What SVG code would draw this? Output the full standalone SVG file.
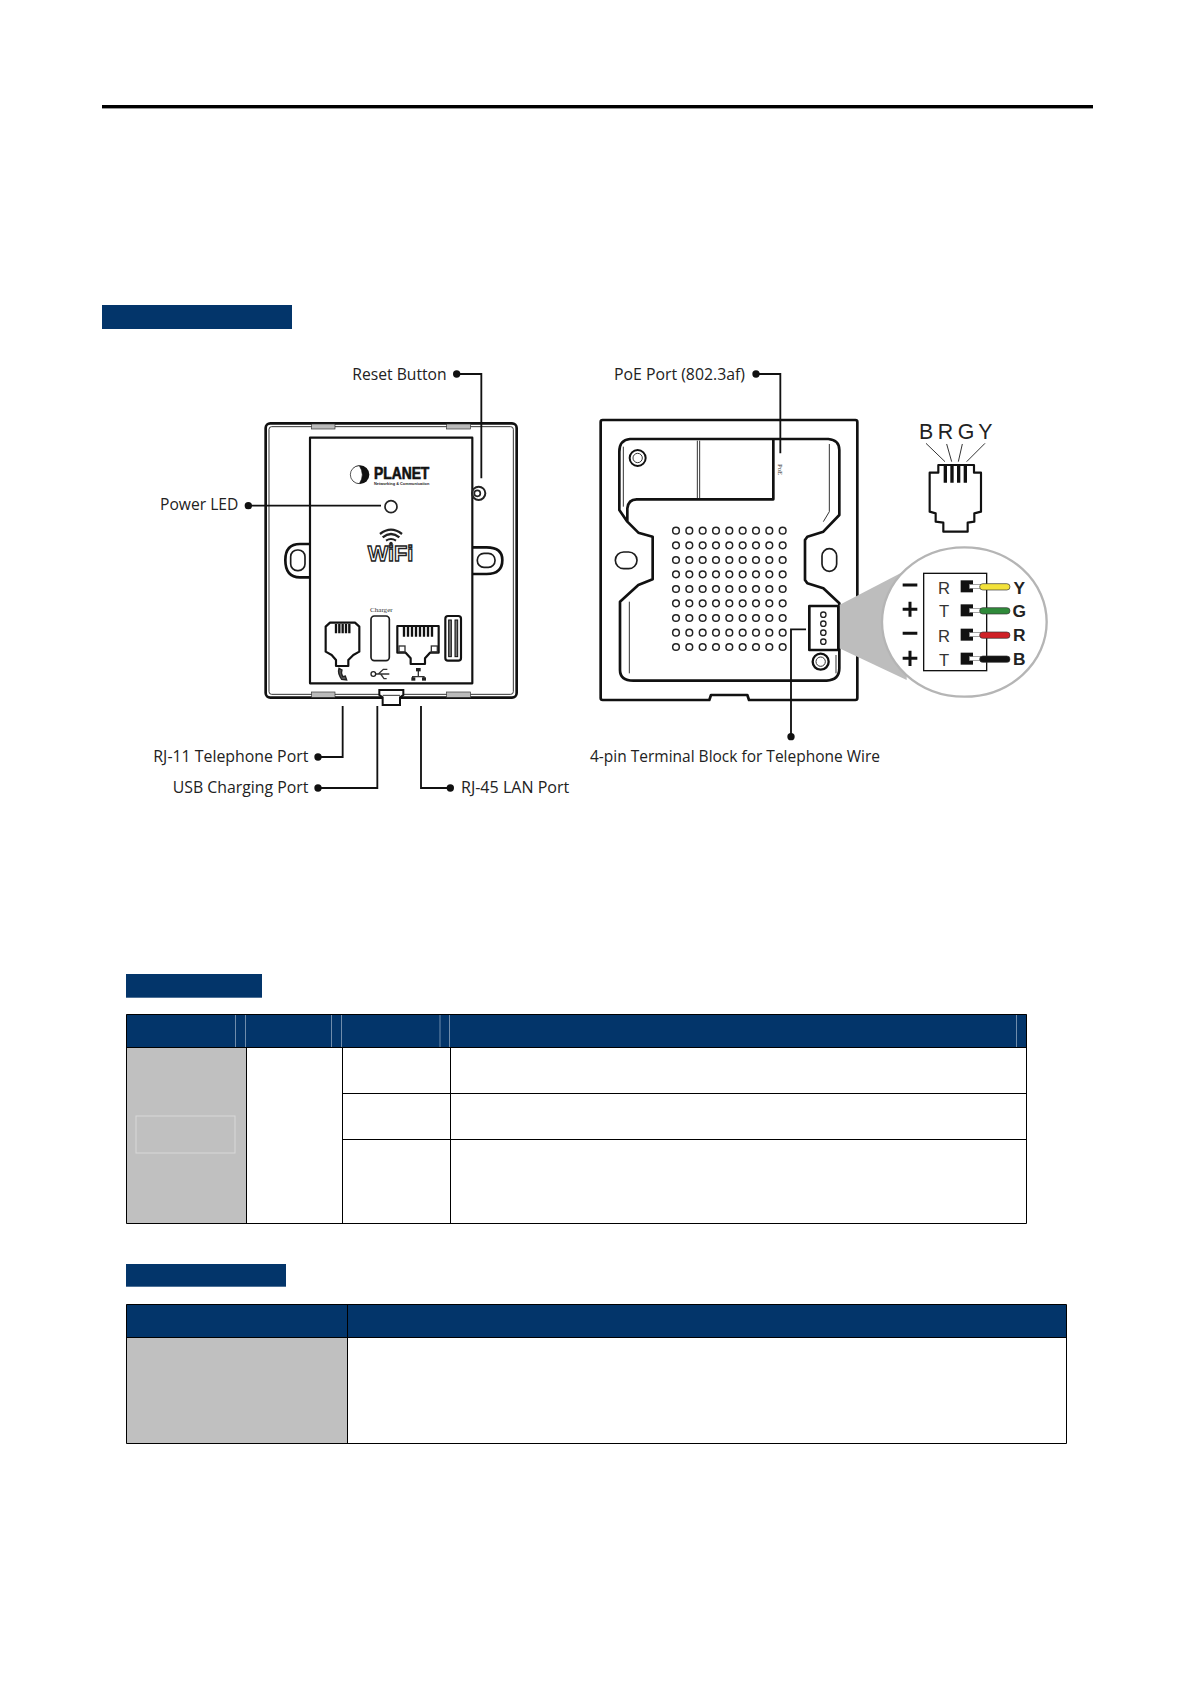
<svg xmlns="http://www.w3.org/2000/svg" width="1190" height="1684" viewBox="0 0 1190 1684">
<style>
.ln{fill:none;stroke:#1c1c1c;stroke-width:5;stroke-linejoin:round}
.ln4{fill:none;stroke:#1c1c1c;stroke-width:4;stroke-linejoin:round}
.ln6{fill:none;stroke:#111;stroke-width:6.5;stroke-linejoin:round}
.ln8{fill:none;stroke:#111;stroke-width:8;stroke-linejoin:round}
.th{fill:none;stroke:#333;stroke-width:3}
.th4{fill:none;stroke:#333;stroke-width:4}
.ld{fill:none;stroke:#111;stroke-width:5.5}
.dt{fill:#111}
.lb{font-family:"Open Sans","Noto Sans",sans-serif;font-size:50px;fill:#222}
.nv{fill:#03356a}
.sp{stroke:#6f8cab;stroke-width:1}
.bd{stroke:#000;stroke-width:1;fill:none}
.tm{font-family:"Liberation Sans",Arial,sans-serif;font-size:50px;fill:#333}
.wl{font-family:"Liberation Sans",Arial,sans-serif;font-size:52px;font-weight:bold;fill:#222}
</style>
<defs>
<circle id="h" r="10" fill="none" stroke="#222" stroke-width="4.5"/>
<g id="row"><use href="#h" x="0"/><use href="#h" x="40"/><use href="#h" x="80"/><use href="#h" x="120"/><use href="#h" x="160"/><use href="#h" x="200"/><use href="#h" x="240"/><use href="#h" x="280"/><use href="#h" x="320"/></g>
<g id="wire"><rect x="1172" y="-18" width="37" height="36" fill="#111"/><rect x="1198" y="-6" width="34" height="12" fill="#fff" stroke="#777" stroke-width="2"/></g>
</defs>
<rect width="1190" height="1684" fill="#fff"/>
<rect id="header-rule" x="102" y="105" width="991" height="3.4" fill="#000"/>
<rect id="title-bar-1" class="nv" x="102" y="305" width="190" height="24"/>

<g id="front-panel" transform="translate(100 340) scale(.33333)">
<g id="front-body">
<rect x="497" y="250" width="753" height="823" rx="14" class="ln8"/>
<rect x="507" y="260" width="733" height="803" rx="8" class="th"/>
<g fill="#bbb" stroke="#333" stroke-width="2"><rect x="635" y="252" width="70" height="15"/><rect x="1040" y="252" width="72" height="15"/><rect x="635" y="1056" width="70" height="16"/><rect x="1040" y="1056" width="72" height="16"/></g>
<path d="M838 1050H910V1065L900 1072V1095H848V1072L838 1065Z" fill="#fff" stroke="#111" stroke-width="6"/>
<path d="M848 1066H900" class="th"/>
<rect x="630" y="293" width="487" height="737" fill="#fff" class="ln6"/>
<path d="M630 612H600Q556 612 556 660Q556 712 600 712H630" class="ln8"/>
<rect x="572" y="630" width="43" height="62" rx="20" class="ln"/>
<path d="M1117 622H1160Q1207 622 1207 660Q1207 702 1160 702H1117" class="ln8"/>
<rect x="1132" y="640" width="53" height="42" rx="20" class="ln"/>
</g>
<g id="logo">
<circle cx="780" cy="404" r="28" fill="#111"/><path d="M778 377A27 27 0 0 0 778 431Q796 404 778 377Z" fill="#fff" stroke="#111" stroke-width="2"/>
<text x="822" y="416" font-family="'Liberation Sans',Arial,sans-serif" font-weight="bold" font-size="52" fill="#111" stroke="#111" stroke-width="2" textLength="166" lengthAdjust="spacingAndGlyphs">PLANET</text>
<text x="822" y="435" font-family="'Liberation Sans',Arial,sans-serif" font-weight="bold" font-size="13" fill="#222" textLength="166" lengthAdjust="spacingAndGlyphs">Networking &amp; Communication</text>
</g>
<g id="power-led"><circle cx="873" cy="500" r="18" fill="#fff" stroke="#222" stroke-width="5"/></g>
<g id="reset-button"><circle cx="1136" cy="460" r="20" fill="none" stroke="#222" stroke-width="6"/><circle cx="1132" cy="460" r="9" fill="none" stroke="#222" stroke-width="5"/></g>
<g id="wifi">
<g fill="none" stroke="#222"><path d="M840 582Q873 556 906 582" stroke-width="7"/><path d="M848 592Q873 572 898 592" stroke-width="7"/><path d="M858 602Q873 592 888 602" stroke-width="6"/></g><circle cx="873" cy="610" r="5" fill="#222"/>
<text x="803" y="664" font-family="'Liberation Sans',Arial,sans-serif" font-weight="bold" font-size="68" fill="#fff" stroke="#222" stroke-width="4" textLength="137" lengthAdjust="spacingAndGlyphs">WiFi</text>
</g>
<g id="rj11-port">
<path d="M690 848H765L778 860V935L760 945L745 960V978H708V960L695 945L677 935V860Z" class="ln6"/>
<path d="M708 852V880M718 852V880M728 852V880M738 852V880M748 852V880" stroke="#111" stroke-width="7"/>
<path d="M717 985Q712 1000 725 1018L740 1020L736 1008L728 1010Q722 998 726 990Z" fill="#555" stroke="#222" stroke-width="4"/>
</g>
<g id="usb-port">
<text x="810" y="815" font-family="'Liberation Serif',serif" font-size="18" fill="#333" textLength="68" lengthAdjust="spacingAndGlyphs">Charger</text>
<rect x="813" y="828" width="55" height="134" rx="10" class="ln"/>
<path d="M820 1002H868M835 1002L850 988H862M842 1002L852 1016H860" class="th4" stroke="#111"/><circle cx="820" cy="1002" r="7" fill="#fff" stroke="#222" stroke-width="4"/>
</g>
<g id="rj45-port">
<path d="M892 858H1016V938H990L975 955V972H932V955L917 938H892Z" class="ln6"/>
<path d="M912 860V890M924 860V890M936 860V890M948 860V890M960 860V890M972 860V890M984 860V890M996 860V890" stroke="#111" stroke-width="7"/>
<rect x="897" y="918" width="18" height="18" class="th4"/><rect x="994" y="918" width="18" height="18" class="th4"/>
<path d="M955 992V1010M938 1020V1010H972V1020" class="th4"/><rect x="948" y="984" width="14" height="10" fill="#222"/><rect x="934" y="1012" width="12" height="10" fill="#222"/><rect x="966" y="1012" width="12" height="10" fill="#222"/>
</g>
<g id="sim-slot">
<rect x="1036" y="828" width="47" height="134" rx="8" class="ln6"/>
<rect x="1046" y="840" width="8" height="110" fill="#777" stroke="#111" stroke-width="3"/><rect x="1065" y="840" width="8" height="110" fill="#777" stroke="#111" stroke-width="3"/>
</g>
<g id="connectors-front">
<path class="ld" d="M1070 102H1144V415M445 497H843M654 1251H728V1098M654 1344H832V1098M1051 1344H963V1098"/>
<g class="dt"><circle cx="1070" cy="102" r="11"/><circle cx="445" cy="497" r="11"/><circle cx="654" cy="1251" r="11"/><circle cx="654" cy="1344" r="11"/><circle cx="1051" cy="1344" r="11"/></g>
</g>
<g id="labels-front">
<text class="lb" x="757" y="121" textLength="283" lengthAdjust="spacingAndGlyphs">Reset Button</text>
<text class="lb" x="180" y="509" textLength="235" lengthAdjust="spacingAndGlyphs">Power LED</text>
<text class="lb" x="160" y="1266" textLength="465" lengthAdjust="spacingAndGlyphs">RJ-11 Telephone Port</text>
<text class="lb" x="218" y="1358" textLength="407" lengthAdjust="spacingAndGlyphs">USB Charging Port</text>
<text class="lb" x="1083" y="1358" textLength="325" lengthAdjust="spacingAndGlyphs">RJ-45 LAN Port</text>
</g>
</g>

<g id="rear-panel" transform="translate(570 340) scale(.33333)">
<g id="rear-body">
<path d="M98 240H856Q862 240 862 246V1074Q862 1080 856 1080H537L532 1065H423L418 1080H98Q92 1080 92 1074V246Q92 240 98 240Z" class="ln8"/>
<path d="M610 300V478H200Q175 478 172 505V545L205 578L248 590V718L205 735L150 785V990Q150 1022 190 1022H770Q808 1020 808 985V790L760 745L712 730L705 720V600L712 590L760 575L808 525V330Q808 300 775 297H180Q148 300 148 335V510L172 545" class="ln8"/>
<path d="M778 312V515L760 545M178 785V1000M382 302V475M389 302V475M798 945V1000M160 320V500" class="th"/>
<circle cx="203" cy="354" r="24" fill="none" stroke="#111" stroke-width="6"/><circle cx="203" cy="354" r="14" fill="none" stroke="#333" stroke-width="3"/>
<circle cx="752" cy="965" r="24" fill="#fff" stroke="#111" stroke-width="7"/><circle cx="752" cy="965" r="14" fill="none" stroke="#333" stroke-width="3"/>
<rect x="136" y="636" width="65" height="50" rx="25" class="ln"/>
<rect x="756" y="626" width="44" height="68" rx="22" class="ln"/>
<text transform="translate(625 372) rotate(90)" font-family="'Liberation Serif',serif" font-size="20" fill="#333">PoE</text>
</g>
<g id="vent-holes">
<use href="#row" x="318" y="572"/><use href="#row" x="318" y="616"/><use href="#row" x="318" y="660"/><use href="#row" x="318" y="703"/><use href="#row" x="318" y="747"/><use href="#row" x="318" y="790"/><use href="#row" x="318" y="834"/><use href="#row" x="318" y="878"/><use href="#row" x="318" y="921"/>
</g>
<g id="terminal-block">
<polygon points="808,795 1010,690 1010,1020 808,925" fill="#bdbdbd"/>
<rect x="718" y="798" width="87" height="132" fill="#fff" class="ln8"/>
<g fill="none" stroke="#222" stroke-width="4"><circle cx="760" cy="824" r="8"/><circle cx="760" cy="851" r="8"/><circle cx="760" cy="878" r="8"/><circle cx="760" cy="905" r="8"/></g>
</g>
<g id="rj11-plug">
<path d="M1105 375H1212V398H1233V515L1213 520V545L1193 548V575H1120V548L1097 545V520L1079 515V398H1105Z" class="ln6"/>
<path d="M1126 378V428M1146 378V428M1166 378V428M1186 378V428" stroke="#111" stroke-width="10"/>
<path d="M1068 310L1125 365M1130 312L1145 365M1177 312L1165 365M1245 310L1190 365" class="th"/>
<g font-family="'Liberation Sans',Arial,sans-serif" font-size="64" fill="#222" text-anchor="middle"><text x="1068" y="296">B</text><text x="1126" y="296">R</text><text x="1188" y="296">G</text><text x="1246" y="296">Y</text></g>
</g>
<g id="terminal-detail">
<ellipse cx="1183" cy="846" rx="247" ry="224" fill="#fff" stroke="#b5b5b5" stroke-width="7"/>
<rect x="1061" y="700" width="189" height="292" fill="#fff" stroke="#111" stroke-width="4"/>
<g class="tm" text-anchor="middle"><text x="1122" y="762">R</text><text x="1122" y="832">T</text><text x="1122" y="905">R</text><text x="1122" y="977">T</text></g>
<path d="M998 735H1042M998 808H1042M1020 785V830M998 880H1042M998 955H1042M1020 932V978" stroke="#111" stroke-width="9" fill="none"/>
<use href="#wire" y="739"/><use href="#wire" y="811"/><use href="#wire" y="884"/><use href="#wire" y="956"/>
<g stroke="#333" stroke-width="2"><rect x="1229" y="731" width="91" height="19" rx="9.5" fill="#f3e23a"/><rect x="1229" y="803" width="91" height="19" rx="9.5" fill="#2f8a3a"/><rect x="1229" y="876" width="91" height="19" rx="9.5" fill="#cf2026"/><rect x="1229" y="948" width="91" height="19" rx="9.5" fill="#111"/></g>
<g class="wl" text-anchor="middle"><text x="1348" y="762">Y</text><text x="1348" y="832">G</text><text x="1348" y="904">R</text><text x="1348" y="975">B</text></g>
</g>
<g id="connectors-rear">
<path class="ld" d="M558 102H631V340M663 1190V868H708"/>
<g class="dt"><circle cx="558" cy="102" r="11"/><circle cx="663" cy="1190" r="11"/></g>
</g>
<g id="labels-rear">
<text class="lb" x="132" y="121" textLength="393" lengthAdjust="spacingAndGlyphs">PoE Port (802.3af)</text>
<text class="lb" x="60" y="1266" textLength="870" lengthAdjust="spacingAndGlyphs">4-pin Terminal Block for Telephone Wire</text>
</g>
</g>

<g id="table-1">
<rect class="nv" x="126" y="974" width="136" height="23.7"/>
<rect class="nv" x="126" y="1014.5" width="901" height="33"/>
<rect x="126" y="1047.5" width="120.5" height="176" fill="#c0c0c0"/>
<rect x="136" y="1116" width="99" height="37" fill="none" stroke="#d8d8d8"/>
<path class="sp" d="M235.5 1015V1047M245.5 1015V1047M331.5 1015V1047M341.5 1015V1047M440 1015V1047M449.5 1015V1047M1016.5 1015V1047"/>
<path class="bd" d="M126.5 1014.5H1026.5V1223.5H126.5ZM126.5 1047.5H1026.5M246.5 1047.5V1223.5M342.5 1047.5V1223.5M450.5 1047.5V1223.5M342.5 1093.5H1026.5M342.5 1139.5H1026.5"/>
</g>
<g id="table-2">
<rect class="nv" x="126" y="1264" width="160" height="22.7"/>
<rect class="nv" x="126" y="1304.5" width="940" height="33"/>
<rect x="126" y="1337.5" width="221" height="106" fill="#c0c0c0"/>
<path class="bd" d="M126.5 1304.5H1066.5V1443.5H126.5ZM126.5 1337.5H1066.5M347.5 1304.5V1443.5"/>
</g>
</svg>
